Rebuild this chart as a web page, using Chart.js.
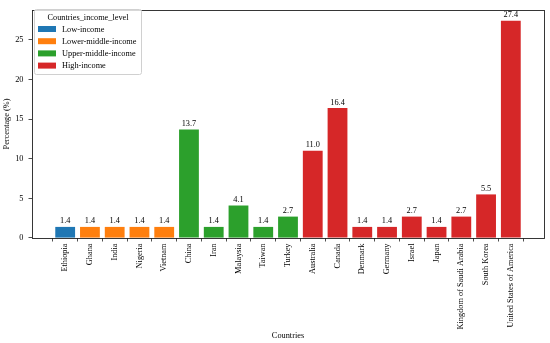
<!DOCTYPE html>
<html>
<head>
<meta charset="utf-8">
<script src="https://cdn.jsdelivr.net/npm/chart.js@4.4.1/dist/chart.umd.min.js"></script>
<style>
  html, body { margin: 0; padding: 0; background: #fff; }
  #wrap { width: 550px; height: 343px; }
</style>
</head>
<body>
<div id="wrap"><canvas id="chart" width="550" height="343"></canvas></div>
<script>
const countries = [
  "Ethiopia", "Ghana", "India", "Nigeria", "Vietnam",
  "China", "Iran", "Malaysia", "Taiwan", "Turkey",
  "Australia", "Canada", "Denmark", "Germany", "Israel", "Japan",
  "Kingdom of Saudi Arabia", "South Korea", "United States of America"
];
const percentages = [
  1.4, 1.4, 1.4, 1.4, 1.4,
  13.7, 1.4, 4.1, 1.4, 2.7,
  11.0, 16.4, 1.4, 1.4, 2.7, 1.4,
  2.7, 5.5, 27.4
];
const countryLevel = [
  0, 1, 1, 1, 1,
  2, 2, 2, 2, 2,
  3, 3, 3, 3, 3, 3,
  3, 3, 3
];
const incomeLevels = ["Low-income", "Lower-middle-income", "Upper-middle-income", "High-income"];
const levelColors = ["#1f77b4", "#ff7f0e", "#2ca02c", "#d62728"];
const yTicks = [0, 5, 10, 15, 20, 25];

const FONT = "'Liberation Serif', 'Times New Roman', serif";
const FS = 8.3;

// matplotlib style margins: 5% around bars of width 0.8
const span = countries.length - 1 + 0.8;
const xMin = -0.4 - 0.05 * span;
const xMax = countries.length - 1 + 0.4 + 0.05 * span;
const yMax = Math.max(...percentages) * 1.05;

const datasets = incomeLevels.map((level, li) => ({
  label: level,
  data: countries
    .map((c, i) => ({ x: i, y: percentages[i], lvl: countryLevel[i] }))
    .filter((p) => p.lvl === li),
  backgroundColor: levelColors[li],
  borderWidth: 0,
  grouped: false,
  barPercentage: 0.8,
  categoryPercentage: 1.0
}));

const frameAndLabels = {
  id: "frameAndLabels",
  afterDatasetsDraw(chart) {
    const ctx = chart.ctx;
    const a = chart.chartArea;
    ctx.save();
    // value labels above bars
    ctx.font = `${FS}px ${FONT}`;
    ctx.fillStyle = "#000";
    ctx.textAlign = "center";
    ctx.textBaseline = "bottom";
    chart.data.datasets.forEach((ds, di) => {
      const meta = chart.getDatasetMeta(di);
      meta.data.forEach((el, i) => {
        ctx.fillText(ds.data[i].y.toFixed(1), el.x, el.y - 1.5);
      });
    });
    // axes frame
    ctx.strokeStyle = "#222";
    ctx.lineWidth = 0.9;
    ctx.strokeRect(Math.round(a.left) + 0.5, Math.round(a.top) + 0.5,
      Math.round(a.right - a.left), Math.round(a.bottom - a.top));
    ctx.restore();
  }
};

const boxLegend = {
  id: "boxLegend",
  afterDraw(chart) {
    const ctx = chart.ctx;
    const x0 = 34.5, y0 = 9.5, w = 107, h = 65;
    ctx.save();
    ctx.fillStyle = "rgba(255,255,255,0.8)";
    ctx.strokeStyle = "#d0d0d0";
    ctx.lineWidth = 1;
    ctx.beginPath();
    ctx.roundRect(x0, y0, w, h, 2);
    ctx.fill();
    ctx.stroke();
    ctx.font = `${FS}px ${FONT}`;
    ctx.fillStyle = "#000";
    ctx.textBaseline = "middle";
    ctx.textAlign = "center";
    ctx.fillText("Countries_income_level", x0 + w / 2, 17.5);
    ctx.textAlign = "left";
    chart.data.datasets.forEach((ds, i) => {
      const cy = 29 + i * 12.2;
      ctx.fillStyle = ds.backgroundColor;
      ctx.fillRect(38, cy - 3, 18, 6);
      ctx.fillStyle = "#000";
      ctx.fillText(ds.label, 62, cy + 0.5);
    });
    ctx.restore();
  }
};

new Chart(document.getElementById("chart"), {
  type: "bar",
  data: { datasets },
  options: {
    responsive: false,
    animation: false,
    layout: { padding: { left: 0, right: 6, top: 5, bottom: 0 } },
    plugins: {
      legend: { display: false },
      tooltip: { enabled: false }
    },
    scales: {
      x: {
        type: "linear",
        min: xMin,
        max: xMax,
        offset: false,
        afterBuildTicks: (scale) => {
          scale.ticks = countries.map((_, i) => ({ value: i }));
        },
        afterFit: (scale) => { scale.height = 105; },
        ticks: {
          autoSkip: false,
          minRotation: 90,
          maxRotation: 90,
          padding: 2,
          color: "#000",
          font: { family: FONT, size: FS },
          callback: (v) => countries[v] ?? ""
        },
        grid: {
          drawOnChartArea: false,
          drawTicks: true,
          tickLength: 3.5,
          color: "#222",
          lineWidth: 0.8
        },
        border: { display: false },
        title: {
          display: true,
          text: "Countries",
          color: "#000",
          padding: { top: 0, bottom: 2 },
          font: { family: FONT, size: FS }
        }
      },
      y: {
        min: 0,
        max: yMax,
        afterBuildTicks: (scale) => {
          scale.ticks = yTicks.map((v) => ({ value: v }));
        },
        afterFit: (scale) => { scale.width = 32; },
        ticks: {
          padding: 5,
          color: "#000",
          font: { family: FONT, size: FS }
        },
        grid: {
          drawOnChartArea: false,
          drawTicks: true,
          tickLength: 3.5,
          color: "#222",
          lineWidth: 0.8
        },
        border: { display: false },
        title: {
          display: true,
          text: "Percentage (%)",
          color: "#000",
          padding: { top: 2, bottom: 0 },
          font: { family: FONT, size: FS }
        }
      }
    }
  },
  plugins: [frameAndLabels, boxLegend]
});
</script>
</body>
</html>
